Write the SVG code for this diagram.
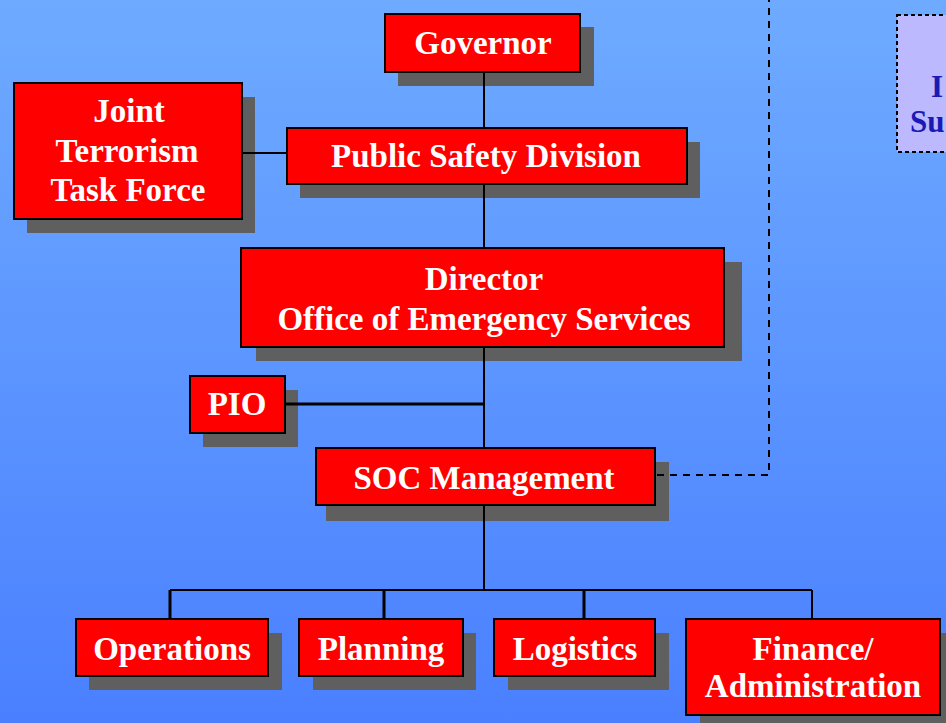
<svg xmlns="http://www.w3.org/2000/svg" width="946" height="723" viewBox="0 0 946 723">
<defs>
<linearGradient id="bg" x1="0" y1="0" x2="0" y2="1">
<stop offset="0" stop-color="#6eabff"/>
<stop offset="1" stop-color="#4a80ff"/>
</linearGradient>
</defs>
<style>
.sh{fill:#5f5f5f}
.bx{fill:#ff0000;stroke:#000;stroke-width:2}
.t{font-family:"Liberation Serif","Times New Roman",serif;font-weight:bold;font-size:33px;fill:#fff;text-anchor:middle}
.ln{stroke:#000;stroke-width:2;fill:none}
.thk{stroke:#000;stroke-width:3;fill:none}
.dsh{stroke:#000;stroke-width:2;fill:none;stroke-dasharray:7 6}
.bt{font-family:"Liberation Serif","Times New Roman",serif;font-weight:bold;font-size:31px;fill:#1a1ab4}
</style>
<rect x="0" y="0" width="946" height="723" fill="url(#bg)"/>
<g id="shadows">
<rect class="sh" x="398" y="27" width="196" height="59"/>
<rect class="sh" x="27" y="97" width="228" height="136"/>
<rect class="sh" x="300" y="142" width="400" height="56"/>
<rect class="sh" x="256" y="262" width="486" height="99"/>
<rect class="sh" x="203" y="390" width="95" height="57"/>
<rect class="sh" x="326" y="462" width="343" height="59"/>
<rect class="sh" x="89" y="633" width="193" height="57"/>
<rect class="sh" x="313" y="633" width="163" height="57"/>
<rect class="sh" x="508" y="633" width="161" height="57"/>
<rect class="sh" x="700" y="633" width="260" height="100"/>
</g>
<g id="connectors">
<line class="ln" x1="484" y1="72" x2="484" y2="128"/>
<line class="ln" x1="484" y1="184" x2="484" y2="248"/>
<line class="ln" x1="242" y1="153" x2="287" y2="153"/>
<line class="ln" x1="484" y1="347" x2="484" y2="448"/>
<line class="thk" x1="285" y1="404" x2="484" y2="404"/>
<line class="ln" x1="484" y1="505" x2="484" y2="590"/>
<line class="ln" x1="170" y1="590" x2="812" y2="590"/>
<line class="thk" x1="170" y1="590" x2="170" y2="619"/>
<line class="thk" x1="384" y1="590" x2="384" y2="619"/>
<line class="thk" x1="584" y1="590" x2="584" y2="619"/>
<line class="ln" x1="812" y1="590" x2="812" y2="619"/>
<polyline class="dsh" points="657,475 769,475 769,0"/>
</g>
<g id="partial-box">
<rect x="897" y="15" width="60" height="137" fill="#bcb9ff" stroke="#000" stroke-width="2" stroke-dasharray="4 3"/>
<text class="bt" x="931" y="97">I</text>
<text class="bt" x="910" y="132">Su</text>
</g>
<g id="governor">
<rect class="bx" x="385" y="14" width="195" height="58"/>
<text class="t" x="483" y="54">Governor</text>
</g>
<g id="jttf">
<rect class="bx" x="14" y="83" width="228" height="136"/>
<text class="t" x="129" y="122">Joint</text>
<text class="t" x="127" y="162">Terrorism</text>
<text class="t" x="128" y="201">Task Force</text>
</g>
<g id="psd">
<rect class="bx" x="287" y="128" width="400" height="56"/>
<text class="t" x="486" y="167">Public Safety Division</text>
</g>
<g id="director">
<rect class="bx" x="241" y="248" width="483" height="99"/>
<text class="t" x="484" y="290">Director</text>
<text class="t" x="484" y="330">Office of Emergency Services</text>
</g>
<g id="pio">
<rect class="bx" x="190" y="376" width="95" height="57"/>
<text class="t" x="237" y="415">PIO</text>
</g>
<g id="soc">
<rect class="bx" x="316" y="448" width="339" height="57"/>
<text class="t" x="484" y="489">SOC Management</text>
</g>
<g id="operations">
<rect class="bx" x="76" y="619" width="192" height="57"/>
<text class="t" x="172" y="660">Operations</text>
</g>
<g id="planning">
<rect class="bx" x="299" y="619" width="164" height="57"/>
<text class="t" x="381" y="660">Planning</text>
</g>
<g id="logistics">
<rect class="bx" x="494" y="619" width="161" height="57"/>
<text class="t" x="575" y="660">Logistics</text>
</g>
<g id="finance">
<rect class="bx" x="686" y="619" width="254" height="96"/>
<text class="t" x="813" y="660">Finance/</text>
<text class="t" x="813" y="697">Administration</text>
</g>
</svg>
